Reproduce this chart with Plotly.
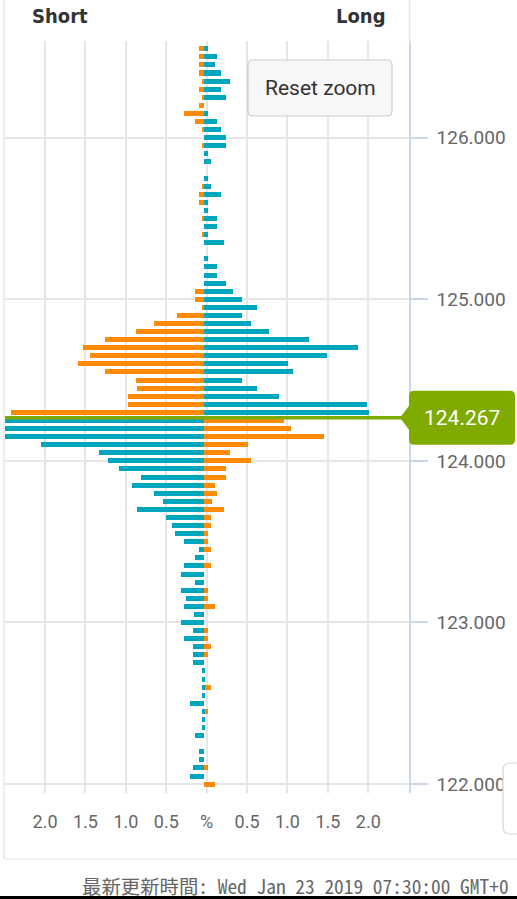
import plotly.graph_objects as go

# ---------------- data ----------------
price_levels = [
    126.55, 126.50, 126.45, 126.40, 126.35, 126.30, 126.25, 126.20, 126.15, 126.10,
    126.05, 126.00, 125.95, 125.90, 125.85, 125.80, 125.75, 125.70, 125.65, 125.60,
    125.55, 125.50, 125.45, 125.40, 125.35, 125.30, 125.25, 125.20, 125.15, 125.10,
    125.05, 125.00, 124.95, 124.90, 124.85, 124.80, 124.75, 124.70, 124.65, 124.60,
    124.55, 124.50, 124.45, 124.40, 124.35, 124.30, 124.25, 124.20, 124.15, 124.10,
    124.05, 124.00, 123.95, 123.90, 123.85, 123.80, 123.75, 123.70, 123.65, 123.60,
    123.55, 123.50, 123.45, 123.40, 123.35, 123.30, 123.25, 123.20, 123.15, 123.10,
    123.05, 123.00, 122.95, 122.90, 122.85, 122.80, 122.75, 122.70, 122.65, 122.60,
    122.55, 122.50, 122.45, 122.40, 122.35, 122.30, 122.25, 122.20, 122.15, 122.10,
    122.05, 122.00,
]

# percentage of positions (absolute size) per price level
orange_pct = [
    0.062, 0.062, 0.062, 0.062, 0.020, 0.062, 0.020, 0.062, 0.243, 0.111,
    0.020, 0.000, 0.020, 0.000, 0.000, 0.000, 0.000, 0.020, 0.062, 0.062,
    0.000, 0.020, 0.000, 0.020, 0.000, 0.000, 0.000, 0.000, 0.000, 0.000,
    0.111, 0.111, 0.020, 0.334, 0.619, 0.846, 1.225, 1.498, 1.411, 1.563,
    1.225, 0.846, 0.825, 0.936, 0.936, 2.389, 0.986, 1.077, 1.480, 0.540,
    0.320, 0.584, 0.270, 0.270, 0.136, 0.159, 0.093, 0.248, 0.091, 0.091,
    0.045, 0.045, 0.091, 0.000, 0.091, 0.000, 0.000, 0.045, 0.045, 0.136,
    0.000, 0.000, 0.045, 0.045, 0.091, 0.045, 0.000, 0.000, 0.000, 0.091,
    0.000, 0.000, 0.045, 0.000, 0.000, 0.000, 0.000, 0.000, 0.000, 0.045,
    0.000, 0.136,
]
teal_pct = [
    0.045, 0.157, 0.134, 0.206, 0.320, 0.206, 0.270, 0.000, 0.045, 0.157,
    0.206, 0.270, 0.270, 0.045, 0.090, 0.000, 0.045, 0.090, 0.206, 0.045,
    0.045, 0.157, 0.157, 0.045, 0.248, 0.000, 0.045, 0.157, 0.157, 0.268,
    0.359, 0.470, 0.652, 0.470, 0.582, 0.808, 1.303, 1.906, 1.526, 1.035,
    1.097, 0.474, 0.656, 0.924, 2.017, 2.042, 2.600, 2.800, 2.700, 2.013,
    1.295, 1.184, 1.048, 0.778, 0.889, 0.621, 0.510, 0.825, 0.466, 0.396,
    0.355, 0.243, 0.062, 0.107, 0.243, 0.285, 0.107, 0.285, 0.223, 0.243,
    0.128, 0.285, 0.132, 0.243, 0.132, 0.132, 0.132, 0.020, 0.020, 0.020,
    0.020, 0.173, 0.020, 0.020, 0.020, 0.107, 0.000, 0.062, 0.062, 0.132,
    0.173, 0.000,
]

CURRENT_PRICE = 124.267
x_tick_values = [-2.0, -1.5, -1.0, -0.5, 0.0, 0.5, 1.0, 1.5, 2.0]
x_tick_labels = ["2.0", "1.5", "1.0", "0.5", "%", "0.5", "1.0", "1.5", "2.0"]
y_tick_values = [122, 123, 124, 125, 126]
header_left, header_right = "Short", "Long"
footer_text = "最新更新時間: Wed Jan 23 2019 07:30:00 GMT+0"

ORANGE = "#ff8a00"
TEAL = "#00a6be"
GREEN = "#7fab00"

# above current price: orange on the left, teal on the right; below: swapped
orange_x = [-v if p > CURRENT_PRICE else v for p, v in zip(price_levels, orange_pct)]
teal_x = [v if p > CURRENT_PRICE else -v for p, v in zip(price_levels, teal_pct)]

# ---------------- geometry helpers (pixels -> paper) ----------------
W, H = 517, 899
PL, PR, PT, PB = 5, 409, 41, 793


def pxx(x):
    return (x - PL) / (PR - PL)


def pxy(y):
    return (PB - y) / (PB - PT)


def rrect(x0, y0, x1, y1, r):
    rx = r / (PR - PL)
    ry = r / (PB - PT)
    X0, X1 = pxx(x0), pxx(x1)
    Y0, Y1 = pxy(y0), pxy(y1)  # Y0 top, Y1 bottom
    return (f"M {X0+rx},{Y0} L {X1-rx},{Y0} Q {X1},{Y0} {X1},{Y0-ry} "
            f"L {X1},{Y1+ry} Q {X1},{Y1} {X1-rx},{Y1} L {X0+rx},{Y1} "
            f"Q {X0},{Y1} {X0},{Y1+ry} L {X0},{Y0-ry} Q {X0},{Y0} {X0+rx},{Y0} Z")


fig = go.Figure()
BAR_W = 0.031
fig.add_trace(go.Bar(y=price_levels, x=orange_x, orientation="h", width=BAR_W,
                     marker=dict(color=ORANGE, line=dict(width=0)), showlegend=False))
fig.add_trace(go.Bar(y=price_levels, x=teal_x, orientation="h", width=BAR_W,
                     marker=dict(color=TEAL, line=dict(width=0)), showlegend=False))

GRID = "#e6e6e6"
AXIS_BLUE = "#ccd6eb"
X_OFF = 0.033  # grid/labels sit slightly right of bar origin in the original

fig.update_layout(
    width=W, height=H,
    margin=dict(l=PL, r=W - PR, t=PT, b=H - PB, pad=0),
    paper_bgcolor="white", plot_bgcolor="white",
    barmode="overlay", bargap=0,
    font=dict(family="Roboto, sans-serif", color="#666666"),
    xaxis=dict(
        range=[-2.463, 2.537], fixedrange=True,
        tickvals=[v + X_OFF for v in x_tick_values], ticktext=x_tick_labels,
        showgrid=True, gridcolor=GRID, gridwidth=2, zeroline=False,
        showline=False, ticks="", tickfont=dict(size=18, color="#666666"),
        ticklabelstandoff=16,
    ),
    yaxis=dict(
        range=[121.945, 126.598], side="right",
        tickvals=y_tick_values, tickformat=".3f",
        showgrid=True, gridcolor=GRID, gridwidth=2, zeroline=False,
        showline=True, linecolor=AXIS_BLUE, linewidth=1.5,
        ticks="outside", ticklen=17, tickwidth=1.5, tickcolor=AXIS_BLUE,
        tickfont=dict(size=19, color="#666666"), ticklabelstandoff=5,
    ),
)

shapes = []
# frame lines
shapes.append(dict(type="line", xref="paper", yref="paper", x0=pxx(4), x1=pxx(4),
                   y0=pxy(0), y1=pxy(859), line=dict(color="#e3e3e3", width=1.2), layer="below"))
shapes.append(dict(type="line", xref="paper", yref="paper", x0=pxx(4), x1=pxx(517),
                   y0=pxy(859), y1=pxy(859), line=dict(color="#e3e3e3", width=1.2)))
shapes.append(dict(type="line", xref="paper", yref="paper", x0=pxx(409.5), x1=pxx(409.5),
                   y0=pxy(0), y1=pxy(41), line=dict(color="#e3e3e3", width=1.5)))
# current price line
shapes.append(dict(type="line", xref="paper", yref="y", x0=0, x1=1,
                   y0=CURRENT_PRICE, y1=CURRENT_PRICE, line=dict(color=GREEN, width=3.5),
                   layer="above"))
# current price label with pointer
shapes.append(dict(type="path", xref="paper", yref="y", xsizemode="pixel", ysizemode="pixel",
                   xanchor=1, yanchor=CURRENT_PRICE,
                   path="M 0,12 L -9,0 L 0,-12 L 0,-22 Q 0,-27 5,-27 L 101,-27 Q 106,-27 106,-22 "
                        "L 106,22 Q 106,27 101,27 L 5,27 Q 0,27 0,22 Z",
                   fillcolor=GREEN, line=dict(width=0), layer="above"))
# reset zoom button
shapes.append(dict(type="path", xref="paper", yref="paper", path=rrect(248, 60, 392, 116, 5),
                   fillcolor="#f7f7f7", line=dict(color="#cccccc", width=1.2), layer="above"))
# partial box at bottom right
shapes.append(dict(type="path", xref="paper", yref="paper", path=rrect(503, 763, 540, 834, 7),
                   fillcolor="white", line=dict(color="#d6d6d6", width=1.2), layer="above"))
# black strip at bottom edge
shapes.append(dict(type="rect", xref="paper", yref="paper", x0=pxx(-2), x1=pxx(520),
                   y0=pxy(896), y1=pxy(902), fillcolor="black", line=dict(width=0)))
fig.update_layout(shapes=shapes)

HEAD_FONT = "DejaVu Sans Condensed, Liberation Sans Narrow, Noto Sans CJK JP, sans-serif"
ann = []
ann.append(dict(text=f"<b>{header_left}</b>", xref="paper", yref="paper", x=pxx(59.5), y=pxy(16),
                showarrow=False, xanchor="center", yanchor="middle",
                font=dict(family=HEAD_FONT, size=20, color="#333333")))
ann.append(dict(text=f"<b>{header_right}</b>", xref="paper", yref="paper", x=pxx(361), y=pxy(16),
                showarrow=False, xanchor="center", yanchor="middle",
                font=dict(family=HEAD_FONT, size=20, color="#333333")))
ann.append(dict(text="Reset zoom", xref="paper", yref="paper", x=pxx(320), y=pxy(88),
                showarrow=False, xanchor="center", yanchor="middle",
                font=dict(family="Roboto, sans-serif", size=21, color="#333333")))
ann.append(dict(text=f"{CURRENT_PRICE:.3f}", xref="paper", yref="y", x=pxx(462), y=CURRENT_PRICE,
                showarrow=False, xanchor="center", yanchor="middle",
                font=dict(family="Roboto, sans-serif", size=21, color="white")))
ann.append(dict(text=footer_text, xref="paper", yref="paper", x=pxx(80), y=pxy(885),
                showarrow=False, xanchor="left", yanchor="middle",
                font=dict(family="Noto Sans Mono CJK JP, DejaVu Sans Mono, monospace", size=19.4, color="#666666")))
fig.update_layout(annotations=ann)

fig.write_html("out.html", config={"displayModeBar": False},
               post_script="document.body.style.margin='0';document.body.style.overflow='hidden';")
